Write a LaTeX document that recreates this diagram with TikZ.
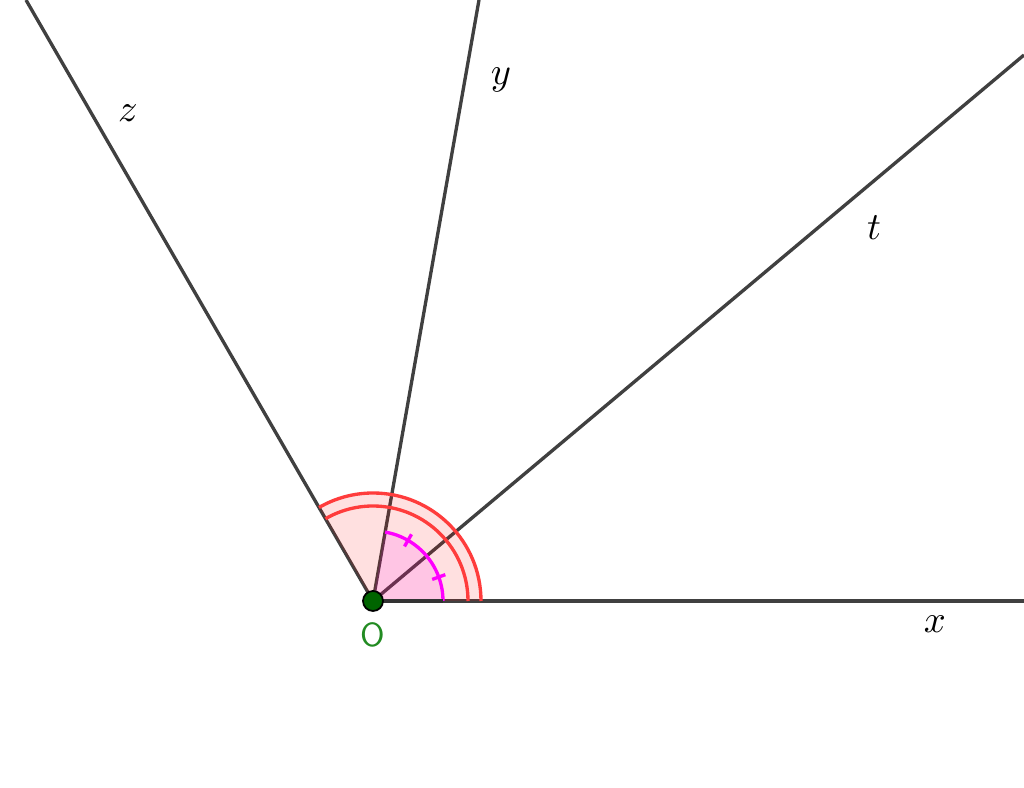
\documentclass[tikz,border=0pt]{standalone}
\usepackage{tikz}
\definecolor{raygray}{RGB}{64,64,64}
\definecolor{ptgreen}{RGB}{0,100,0}
\definecolor{lblgreen}{RGB}{34,139,34}
\definecolor{arcred}{RGB}{255,60,60}
\definecolor{arcmag}{RGB}{255,0,255}
\begin{document}
\begin{tikzpicture}[every path/.style={line width=0.95pt}, lbl/.style={font=\fontsize{10.5}{12}\selectfont}]
\useasboundingbox (-3.73,-1.87) rectangle (6.51,6.01);
\coordinate (O) at (0,0);
\coordinate (X) at (6.51,0);
\coordinate (T) at (6.51,5.46);
\coordinate (Y) at (1.06,6.01);
\coordinate (Z) at (-3.47,6.01);

\draw[raygray] (O) -- (X);
\draw[raygray] (O) -- (T);
\draw[raygray] (O) -- (Y);
\draw[raygray] (O) -- (Z);

% angle xOz
\fill[red, fill opacity=0.12] (O) -- (1.08,0) arc (0:120:1.08) -- cycle;
\draw[arcred] (1.08,0) arc (0:120:1.08);
\draw[arcred] (0.95,0) arc (0:120:0.95);
% angles xOt, tOy
\fill[arcmag, fill opacity=0.12] (O) -- (0.70,0) arc (0:80:0.70) -- cycle;
\draw[arcmag] (0.70,0) arc (0:80:0.70);
\draw[arcmag] (20:0.63) -- (20:0.77);
\draw[arcmag] (60:0.63) -- (60:0.77);

\draw[raygray!80!black] (O) -- (0.70,0);
\filldraw[fill=ptgreen, draw=black, line width=0.5pt] (O) circle (0.1);

\node[lbl] (lx) at (5.62,-0.23) {$x$};
\node[lbl] (lt) at (5.01,3.73) {$t$};
\node[lbl] (ly) at (1.28,5.21) {$y$};
\node[lbl] (lz) at (-2.45,4.88) {$z$};
\node[lblgreen, font=\sffamily\fontsize{9.5}{11}\selectfont] (lO) at (0,-0.34) {O};
\end{tikzpicture}
\end{document}
